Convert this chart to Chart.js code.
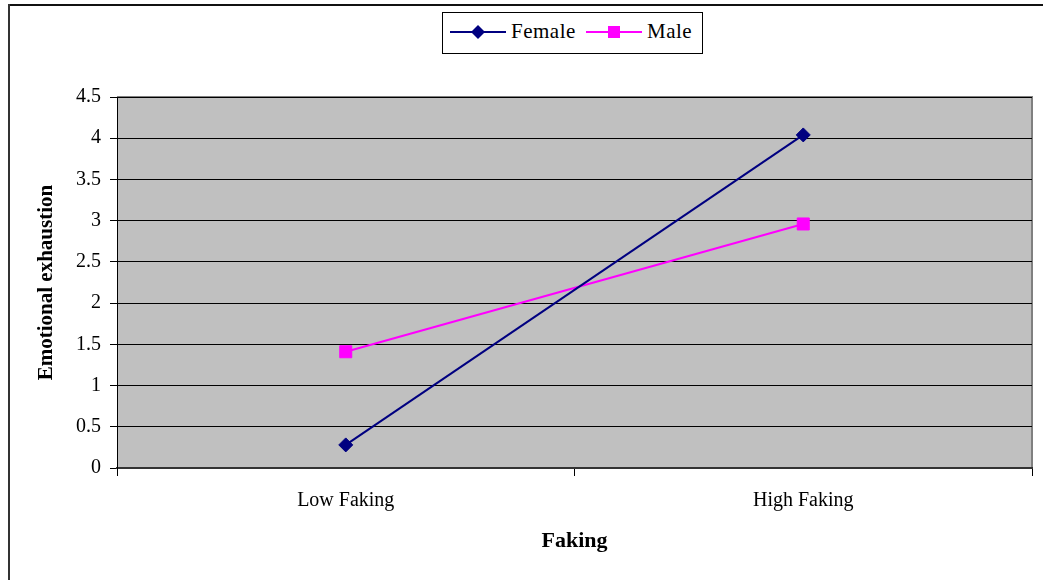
<!DOCTYPE html>
<html>
<head>
<meta charset="utf-8">
<script src="https://cdn.jsdelivr.net/npm/chart.js@4/dist/chart.umd.min.js"></script>
<style>
  html, body { margin: 0; padding: 0; background: #fff; }
  #wrap { position: relative; width: 1043px; height: 580px; overflow: hidden; }
  #c { position: absolute; left: 0; top: 0; }
  #frameTop { position: absolute; left: 8px; top: 4px; width: 1035px; height: 2px; background: #111; }
  #frameLeft { position: absolute; left: 8px; top: 4px; width: 2px; height: 576px; background: #333; }
  #legend { position: absolute; left: 442px; top: 12px; width: 261px; height: 42px; box-sizing: border-box;
            border: 1px solid #000; background: #fff; font-family: "Liberation Serif", serif; font-size: 21px; color: #000; }
  #legend svg { position: absolute; left: 0; top: 0; }
  #legend span { position: absolute; top: 5px; line-height: 26px; white-space: nowrap; letter-spacing: 0.5px; }
</style>
</head>
<body>
<div id="wrap">
  <canvas id="c" width="1043" height="580"></canvas>
  <div id="frameTop"></div>
  <div id="frameLeft"></div>
  <div id="legend">
    <svg width="259" height="40">
      <line x1="7" y1="19" x2="63" y2="19" stroke="#000080" stroke-width="2"/>
      <polygon points="35,12 42,19 35,26 28,19" fill="#000080"/>
      <line x1="143" y1="19" x2="199" y2="19" stroke="#FF00FF" stroke-width="2"/>
      <rect x="165" y="13" width="12" height="12" fill="#FF00FF"/>
    </svg>
    <span style="left:68px">Female</span>
    <span style="left:204px">Male</span>
  </div>
</div>
<script>
const categories = ["Low Faking", "High Faking"];
const femaleValues = [0.28, 4.04];
const maleValues = [1.41, 2.96];
const yTicks = [0, 0.5, 1, 1.5, 2, 2.5, 3, 3.5, 4, 4.5];
const seriesNames = ["Female", "Male"];
const xTitle = "Faking";
const yTitle = "Emotional exhaustion";

const plotBg = {
  id: 'plotBg',
  beforeDraw(chart) {
    const {ctx, chartArea: a} = chart;
    ctx.save();
    ctx.fillStyle = '#C0C0C0';
    ctx.fillRect(a.left, a.top, a.right - a.left, a.bottom - a.top);
    ctx.strokeStyle = '#808080';
    ctx.lineWidth = 2;
    ctx.beginPath();
    ctx.moveTo(a.left, a.top);
    ctx.lineTo(a.right, a.top);
    ctx.lineTo(a.right, a.bottom);
    ctx.stroke();
    ctx.restore();
  }
};

new Chart(document.getElementById('c'), {
  type: 'line',
  data: {
    labels: categories,
    datasets: [
      { label: seriesNames[0], data: femaleValues, borderColor: '#000080', backgroundColor: '#000080',
        borderWidth: 2, pointStyle: 'rectRot', pointRadius: 7, pointBorderWidth: 1, tension: 0 },
      { label: seriesNames[1], data: maleValues, borderColor: '#FF00FF', backgroundColor: '#FF00FF',
        borderWidth: 2, pointStyle: 'rect', pointRadius: 8.5, pointBorderWidth: 1, tension: 0 }
    ]
  },
  options: {
    responsive: false,
    animation: false,
    layout: { padding: { left: 0, top: 97, right: 11, bottom: 0 } },
    plugins: { legend: { display: false }, tooltip: { enabled: false } },
    scales: {
      x: {
        type: 'category',
        offset: true,
        grid: { offset: true, drawOnChartArea: false, drawTicks: true, tickLength: 8, color: '#000', lineWidth: 1 },
        border: { display: true, color: '#333', width: 2 },
        ticks: { color: '#000', font: { family: 'Liberation Serif', size: 20 }, padding: 13, maxRotation: 0 },
        title: { display: true, text: xTitle, color: '#000',
                 font: { family: 'Liberation Serif', size: 22, weight: 'bold' }, padding: { top: 0, bottom: 25 } },
        afterFit(scale) { scale.height = 112; }
      },
      y: {
        min: 0, max: 4.5,
        afterBuildTicks(scale) { scale.ticks = yTicks.map(v => ({ value: v })); },
        grid: { color: '#000', lineWidth: 1, drawTicks: true, tickLength: 7 },
        border: { display: true, color: '#000', width: 1 },
        ticks: { color: '#000', font: { family: 'Liberation Serif', size: 20 }, padding: 9,
                 callback: v => String(v) },
        title: { display: true, text: yTitle, color: '#000',
                 font: { family: 'Liberation Serif', size: 21, weight: 'bold' }, padding: { top: 34, bottom: 0 } },
        afterFit(scale) { scale.width = 117; }
      }
    }
  },
  plugins: [plotBg]
});
</script>
</body>
</html>
